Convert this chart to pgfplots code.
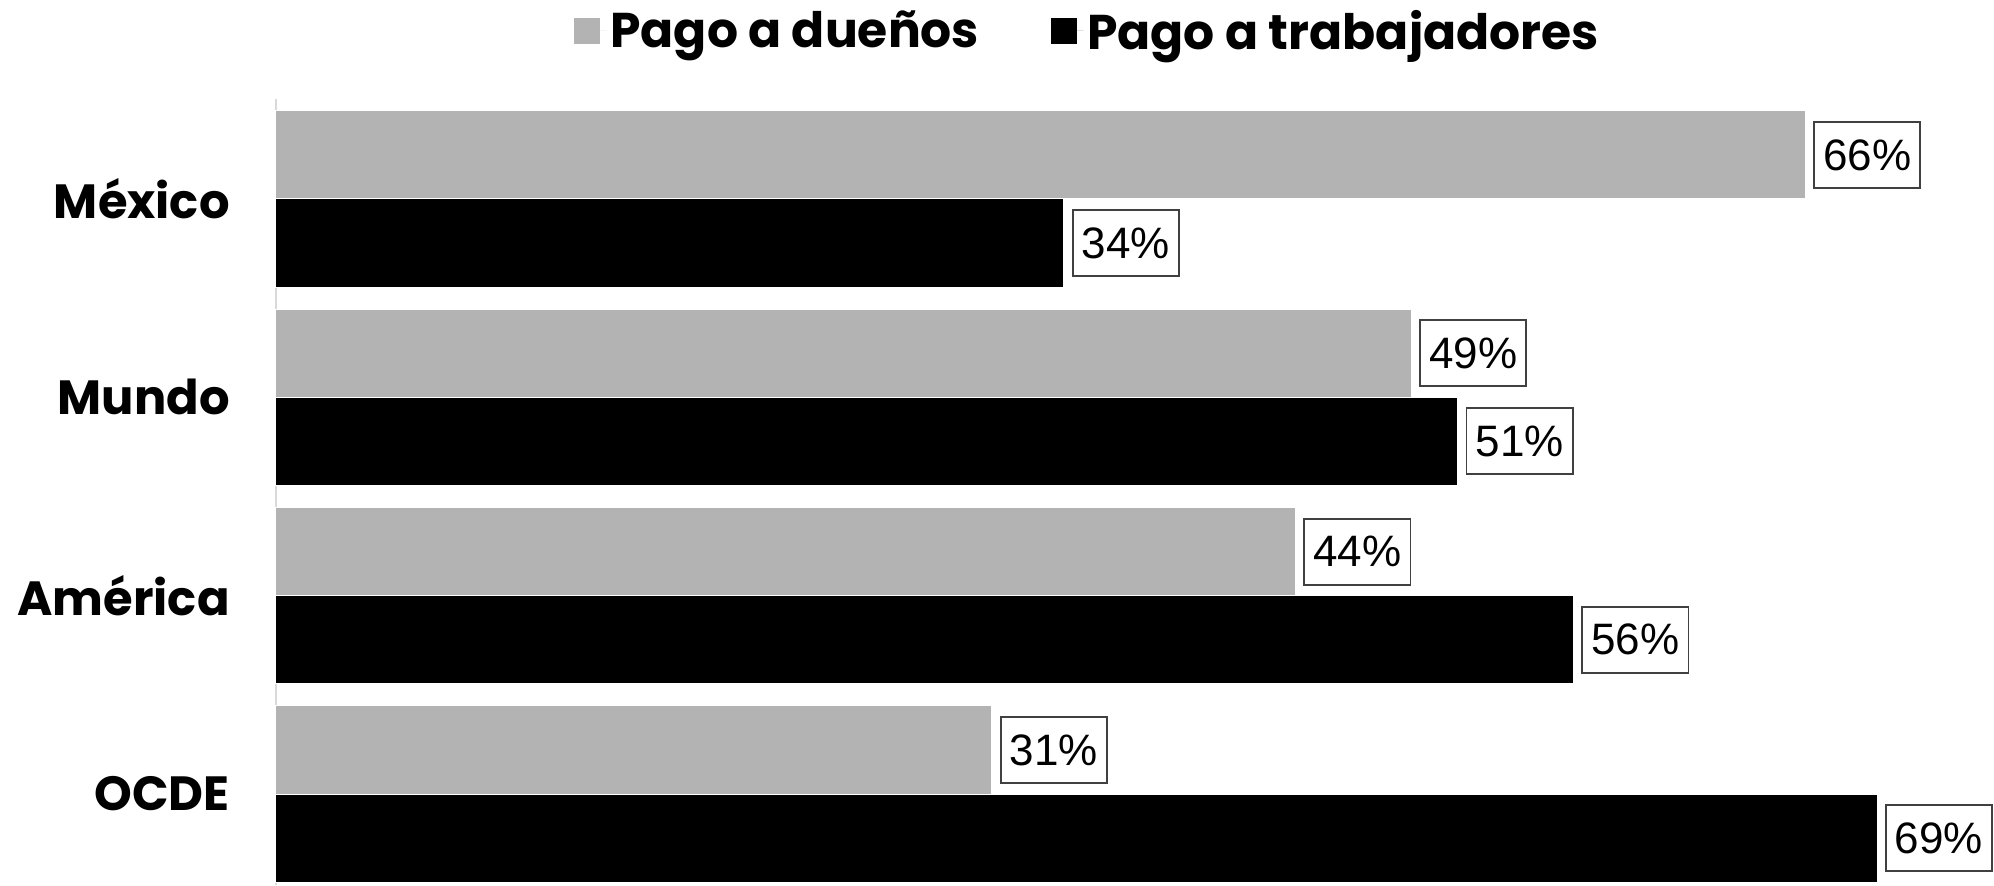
\documentclass[border=0pt]{standalone}
\usepackage{pgfplots}
\pgfplotsset{compat=1.18}
\usepackage{fontspec}
\setmainfont{Poppins}
\newfontfamily\numfont{Liberation Sans}
\definecolor{barGray}{HTML}{B3B3B3}
\definecolor{axGray}{HTML}{D9D9D9}
\definecolor{boxGray}{HTML}{404040}
\begin{document}
\begin{tikzpicture}
\begin{axis}[
  at={(0pt,0pt)}, anchor=south west,
  scale only axis,
  width=859pt, height=393pt,
  xmin=0, xmax=74.15,
  ymin=-0.4587, ymax=3.504,
  axis x line=none,
  axis y line*=left,
  y axis line style={-, draw=axGray, line width=1.3pt},
  xtick=\empty,
  ytick={0,1,2,3},
  yticklabels={OCDE, América, Mundo, México},
  major tick length=0pt,
  yticklabel style={font=\bfseries\fontsize{24}{28}\selectfont, inner sep=0pt, xshift=-23pt},
  clip=false,
  point meta=x,
  /pgf/number format/assume math mode=true,
  nodes near coords={\pgfmathprintnumber[fixed,precision=0,assume math mode=true]{\pgfplotspointmeta}\%},
  every node near coord/.append style={anchor=west, font=\numfont\fontsize{22}{26}\selectfont,
     text=black, draw=boxGray, line width=0.9pt, fill=white, inner xsep=4.5pt, inner ysep=0pt,
     minimum height=33pt, xshift=4pt},
  legend columns=2,
  legend style={at={(axis description cs:0.473,1)}, anchor=center, yshift=34pt,
     draw=none, fill=none, font=\bfseries\fontsize{24.4}{28}\selectfont,
     /tikz/every even column/.append style={column sep=34pt}},
  legend image code/.code={\fill[#1,draw=none] (0pt,-6.5pt) rectangle (13pt,6.5pt);
     \path[draw=none] (0pt,0pt) -- (16pt,0pt);},
]
\addplot[xbar, bar width=0.444, bar shift=0.222, fill=barGray, draw=white, line width=0.5pt,
  every node near coord/.append style={yshift=22pt}]
  coordinates {(66,3) (49,2) (44,1) (30.9,0)};
\addlegendentry{Pago a dueños}
\addplot[xbar, bar width=0.444, bar shift=-0.222, fill=black, draw=white, line width=0.5pt,
  every node near coord/.append style={yshift=-22pt}]
  coordinates {(34,3) (51,2) (56,1) (69.1,0)};
\addlegendentry{Pago a trabajadores}
\end{axis}
\pgfresetboundingbox
\useasboundingbox (-138pt,0pt) rectangle (859pt,442.5pt);
\end{tikzpicture}
\end{document}
